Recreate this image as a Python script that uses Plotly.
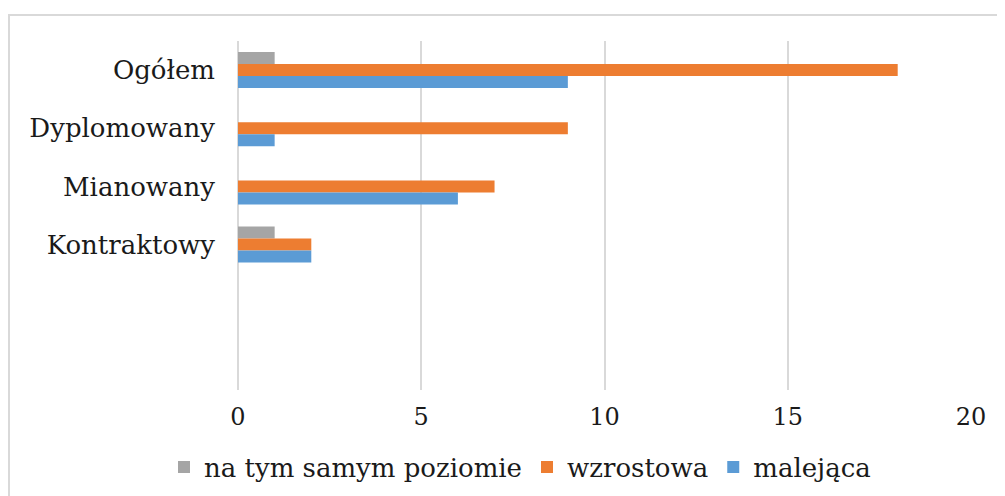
import plotly.graph_objects as go

categories = ["Ogółem", "Dyplomowany", "Mianowany", "Kontraktowy"]
same_level = [1, 0, 0, 1]
increasing = [18, 9, 7, 2]
decreasing = [9, 1, 6, 2]
series_names = ["na tym samym poziomie", "wzrostowa", "malejąca"]
colors = ["#a5a5a5", "#ed7d31", "#5b9bd5"]
x_ticks = [0, 5, 10, 15, 20]

fig = go.Figure()
for name, vals, col in zip(series_names, [same_level, increasing, decreasing], colors):
    fig.add_trace(go.Bar(y=categories, x=vals, name=name, orientation="h",
                         marker=dict(color=col, line=dict(width=0))))

# page body has an 8px margin; positions below are in figure coordinates
OFF = 8
W, H = 1005, 496
L, T = 238 - OFF, 41 - OFF
R = W - (971 - OFF)
B = H - (390 - OFF)
pw, ph = W - L - R, H - T - B

def px2x(px):
    return (px - OFF - L) / pw

def py2y(py):
    return (H - B - (py - OFF)) / ph

fig.update_layout(
    width=W, height=H,
    margin=dict(l=L, r=R, t=T, b=B, autoexpand=False),
    barmode="group", bargap=0.38, bargroupgap=0,
    plot_bgcolor="white", paper_bgcolor="white",
    font=dict(family="DejaVu Serif", size=26, color="#1a1a1a"),
    xaxis=dict(range=[0, 20], tickvals=x_ticks, showgrid=True, gridcolor="#d9d9d9",
               gridwidth=1.5, zeroline=True, zerolinecolor="#d9d9d9", zerolinewidth=1.5,
               showline=False, ticks="", ticklen=0, tickfont=dict(size=24),
               ticklabelstandoff=10, automargin=False, fixedrange=True),
    yaxis=dict(type="category", categoryorder="array", categoryarray=categories,
               range=[5.5, -0.5], showgrid=False, ticks="", tickfont=dict(size=26),
               ticklabelstandoff=22, automargin=False, fixedrange=True),
    legend=dict(orientation="h", x=px2x(520), xanchor="center", y=py2y(467), yanchor="middle",
                font=dict(size=26), traceorder="normal", itemwidth=30),
    showlegend=True,
    shapes=[dict(type="rect", xref="paper", yref="paper",
                 x0=px2x(9), x1=px2x(1012), y0=py2y(505), y1=py2y(15),
                 line=dict(color="#d9d9d9", width=2), layer="below")],
)

fig.write_html("out.html")
